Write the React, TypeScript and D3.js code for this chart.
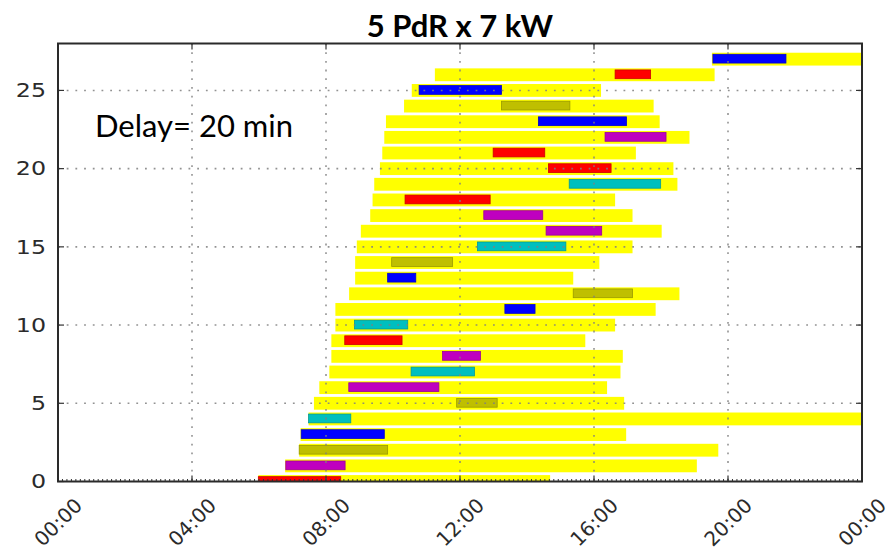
import { useEffect, useRef } from 'react';
import * as d3 from 'd3';

// one row per vehicle, times in hours of the day
const arrivals = [5.98, 6.78, 7.2, 7.24, 7.48, 7.64, 7.8, 8.1, 8.16, 8.16, 8.28, 8.28, 8.69, 8.87, 8.87, 8.92, 9.04, 9.32, 9.39, 9.44, 9.61, 9.68, 9.74, 9.79, 10.33, 10.56, 11.25, 19.52];
const departures = [14.69, 19.07, 19.71, 16.96, 24.5, 16.9, 16.39, 16.79, 16.86, 15.74, 16.63, 17.84, 18.55, 15.38, 16.16, 17.15, 18.02, 17.15, 16.63, 18.49, 18.37, 17.25, 18.85, 17.96, 17.78, 16.21, 19.6, 24.5];
const chargeStart = [5.98, 6.8, 7.2, 7.26, 7.48, 11.9, 8.68, 10.54, 11.48, 8.56, 8.85, 13.34, 15.38, 9.84, 9.96, 12.52, 14.57, 12.71, 10.36, 15.26, 14.64, 12.99, 16.33, 14.34, 13.24, 10.78, 16.63, 19.55];
const chargeEnd = [8.44, 8.57, 9.84, 9.74, 8.74, 13.11, 11.37, 12.43, 12.61, 10.27, 10.44, 14.24, 17.15, 10.68, 11.78, 15.16, 16.23, 14.47, 12.9, 17.99, 16.51, 14.53, 18.15, 16.97, 15.28, 13.24, 17.69, 21.73];
// charging point used (0 red, 1 blue, 2 magenta, 3 cyan, 4 olive)
const chargePoint = [0, 2, 4, 1, 3, 4, 2, 3, 2, 0, 3, 1, 4, 1, 4, 3, 2, 2, 0, 3, 0, 0, 2, 1, 4, 1, 0, 1];

const pointColors = ['#ff0000', '#0000ff', '#bf00bf', '#00bfbf', '#bfbf00'];
const yTicks = [0, 5, 10, 15, 20, 25];
const xTickHours = [0, 4, 8, 12, 16, 20, 24];
const title = '5 PdR x 7 kW';
const note = 'Delay= 20 min';

const day = new Date(2000, 0, 1);
const at = (h: number) => new Date(day.getTime() + h * 3600 * 1000);

export default function App() {
	const ref = useRef<SVGSVGElement | null>(null);

	useEffect(() => {
		if (!ref.current) return;
		const svg = d3.select(ref.current);
		svg.selectAll('*').remove();

		const left = 58;
		const right = 862;
		const top = 43.5;
		const bottom = 481.5;

		const x = d3.scaleTime().domain([at(0), at(24)]).range([left, right]);
		const y = d3.scaleLinear().domain([0, 28]).range([bottom, top]);
		const unit = y(0) - y(1);

		svg.append('rect').attr('width', 894).attr('height', 557).attr('fill', '#fff');

		svg
			.append('clipPath')
			.attr('id', 'plot')
			.append('rect')
			.attr('x', left)
			.attr('y', top)
			.attr('width', right - left)
			.attr('height', bottom - top);

		const bars = svg.append('g').attr('clip-path', 'url(#plot)');
		const rows = d3.range(arrivals.length);

		bars
			.selectAll('rect.stay')
			.data(rows)
			.join('rect')
			.attr('class', 'stay')
			.attr('x', i => x(at(arrivals[i])))
			.attr('width', i => x(at(departures[i])) - x(at(arrivals[i])))
			.attr('y', i => y(i) - unit * 0.41)
			.attr('height', unit * 0.82)
			.attr('fill', '#ffff00');

		bars
			.selectAll('rect.charge')
			.data(rows)
			.join('rect')
			.attr('class', 'charge')
			.attr('x', i => x(at(chargeStart[i])))
			.attr('width', i => x(at(chargeEnd[i])) - x(at(chargeStart[i])))
			.attr('y', i => y(i) - unit * 0.31)
			.attr('height', unit * 0.56)
			.attr('fill', i => pointColors[chargePoint[i]])
			.attr('stroke', i => d3.color(pointColors[chargePoint[i]])!.darker(0.6).formatHex())
			.attr('stroke-width', 0.8);

		// dotted grid on top of the bars
		const grid = svg
			.append('g')
			.attr('stroke', '#808080')
			.attr('stroke-width', 1.6)
			.attr('stroke-dasharray', '1.8,6.9')
			.attr('opacity', 0.85);
		grid
			.selectAll('line.v')
			.data(xTickHours.slice(1, -1))
			.join('line')
			.attr('x1', h => x(at(h)))
			.attr('x2', h => x(at(h)))
			.attr('y1', top)
			.attr('y2', bottom);
		grid
			.selectAll('line.h')
			.data(yTicks.slice(1))
			.join('line')
			.attr('x1', left)
			.attr('x2', right)
			.attr('y1', d => y(d))
			.attr('y2', d => y(d));

		// minor ticks along the bottom axis
		svg
			.append('g')
			.attr('stroke', '#333')
			.attr('stroke-width', 1)
			.selectAll('line')
			.data(d3.range(0, 24 * 60, 8))
			.join('line')
			.attr('x1', m => x(at(m / 60)))
			.attr('x2', m => x(at(m / 60)))
			.attr('y1', bottom)
			.attr('y2', bottom - 2.5);

		const ticks = svg.append('g').attr('stroke', '#333').attr('stroke-width', 1.2);
		xTickHours.forEach(h => {
			ticks.append('line').attr('x1', x(at(h))).attr('x2', x(at(h))).attr('y1', bottom).attr('y2', bottom - 6);
			ticks.append('line').attr('x1', x(at(h))).attr('x2', x(at(h))).attr('y1', top).attr('y2', top + 6);
		});
		yTicks.forEach(v => {
			ticks.append('line').attr('x1', left).attr('x2', left + 6).attr('y1', y(v)).attr('y2', y(v));
			ticks.append('line').attr('x1', right).attr('x2', right - 6).attr('y1', y(v)).attr('y2', y(v));
		});

		svg
			.append('rect')
			.attr('x', left)
			.attr('y', top)
			.attr('width', right - left)
			.attr('height', bottom - top)
			.attr('fill', 'none')
			.attr('stroke', '#2a2a2a')
			.attr('stroke-width', 2);

		const fmt = d3.timeFormat('%H:%M');

		svg
			.append('g')
			.selectAll('text')
			.data(yTicks)
			.join('text')
			.attr('transform', d => `translate(${left - 12},${y(d)}) scale(1.25,1)`)
			.attr('text-anchor', 'end')
			.attr('dy', '0.36em')
			.attr('font-family', 'DejaVu Sans')
			.attr('font-size', 19)
			.attr('fill', '#2b2b2b')
			.text(d => d);

		svg
			.append('g')
			.selectAll('text')
			.data(xTickHours)
			.join('text')
			.attr('transform', h => `translate(${x(at(h))},522) rotate(-45)`)
			.attr('text-anchor', 'middle')
			.attr('dy', '0.36em')
			.attr('font-family', 'DejaVu Sans')
			.attr('font-size', 20)
			.attr('fill', '#2b2b2b')
			.text(h => fmt(at(h)));

		svg
			.append('text')
			.attr('x', (left + right) / 2)
			.attr('y', 37)
			.attr('text-anchor', 'middle')
			.attr('font-family', 'Lato')
			.attr('font-weight', 'bold')
			.attr('font-size', 31)
			.attr('fill', '#000')
			.text(title);

		svg
			.append('text')
			.attr('x', 95)
			.attr('y', 137)
			.attr('font-family', 'Lato')
			.attr('font-size', 31)
			.attr('fill', '#000')
			.text(note);
	}, []);

	return <svg ref={ref} width={894} height={557} style={{ position: 'absolute', left: 0, top: 0 }} />;
}
